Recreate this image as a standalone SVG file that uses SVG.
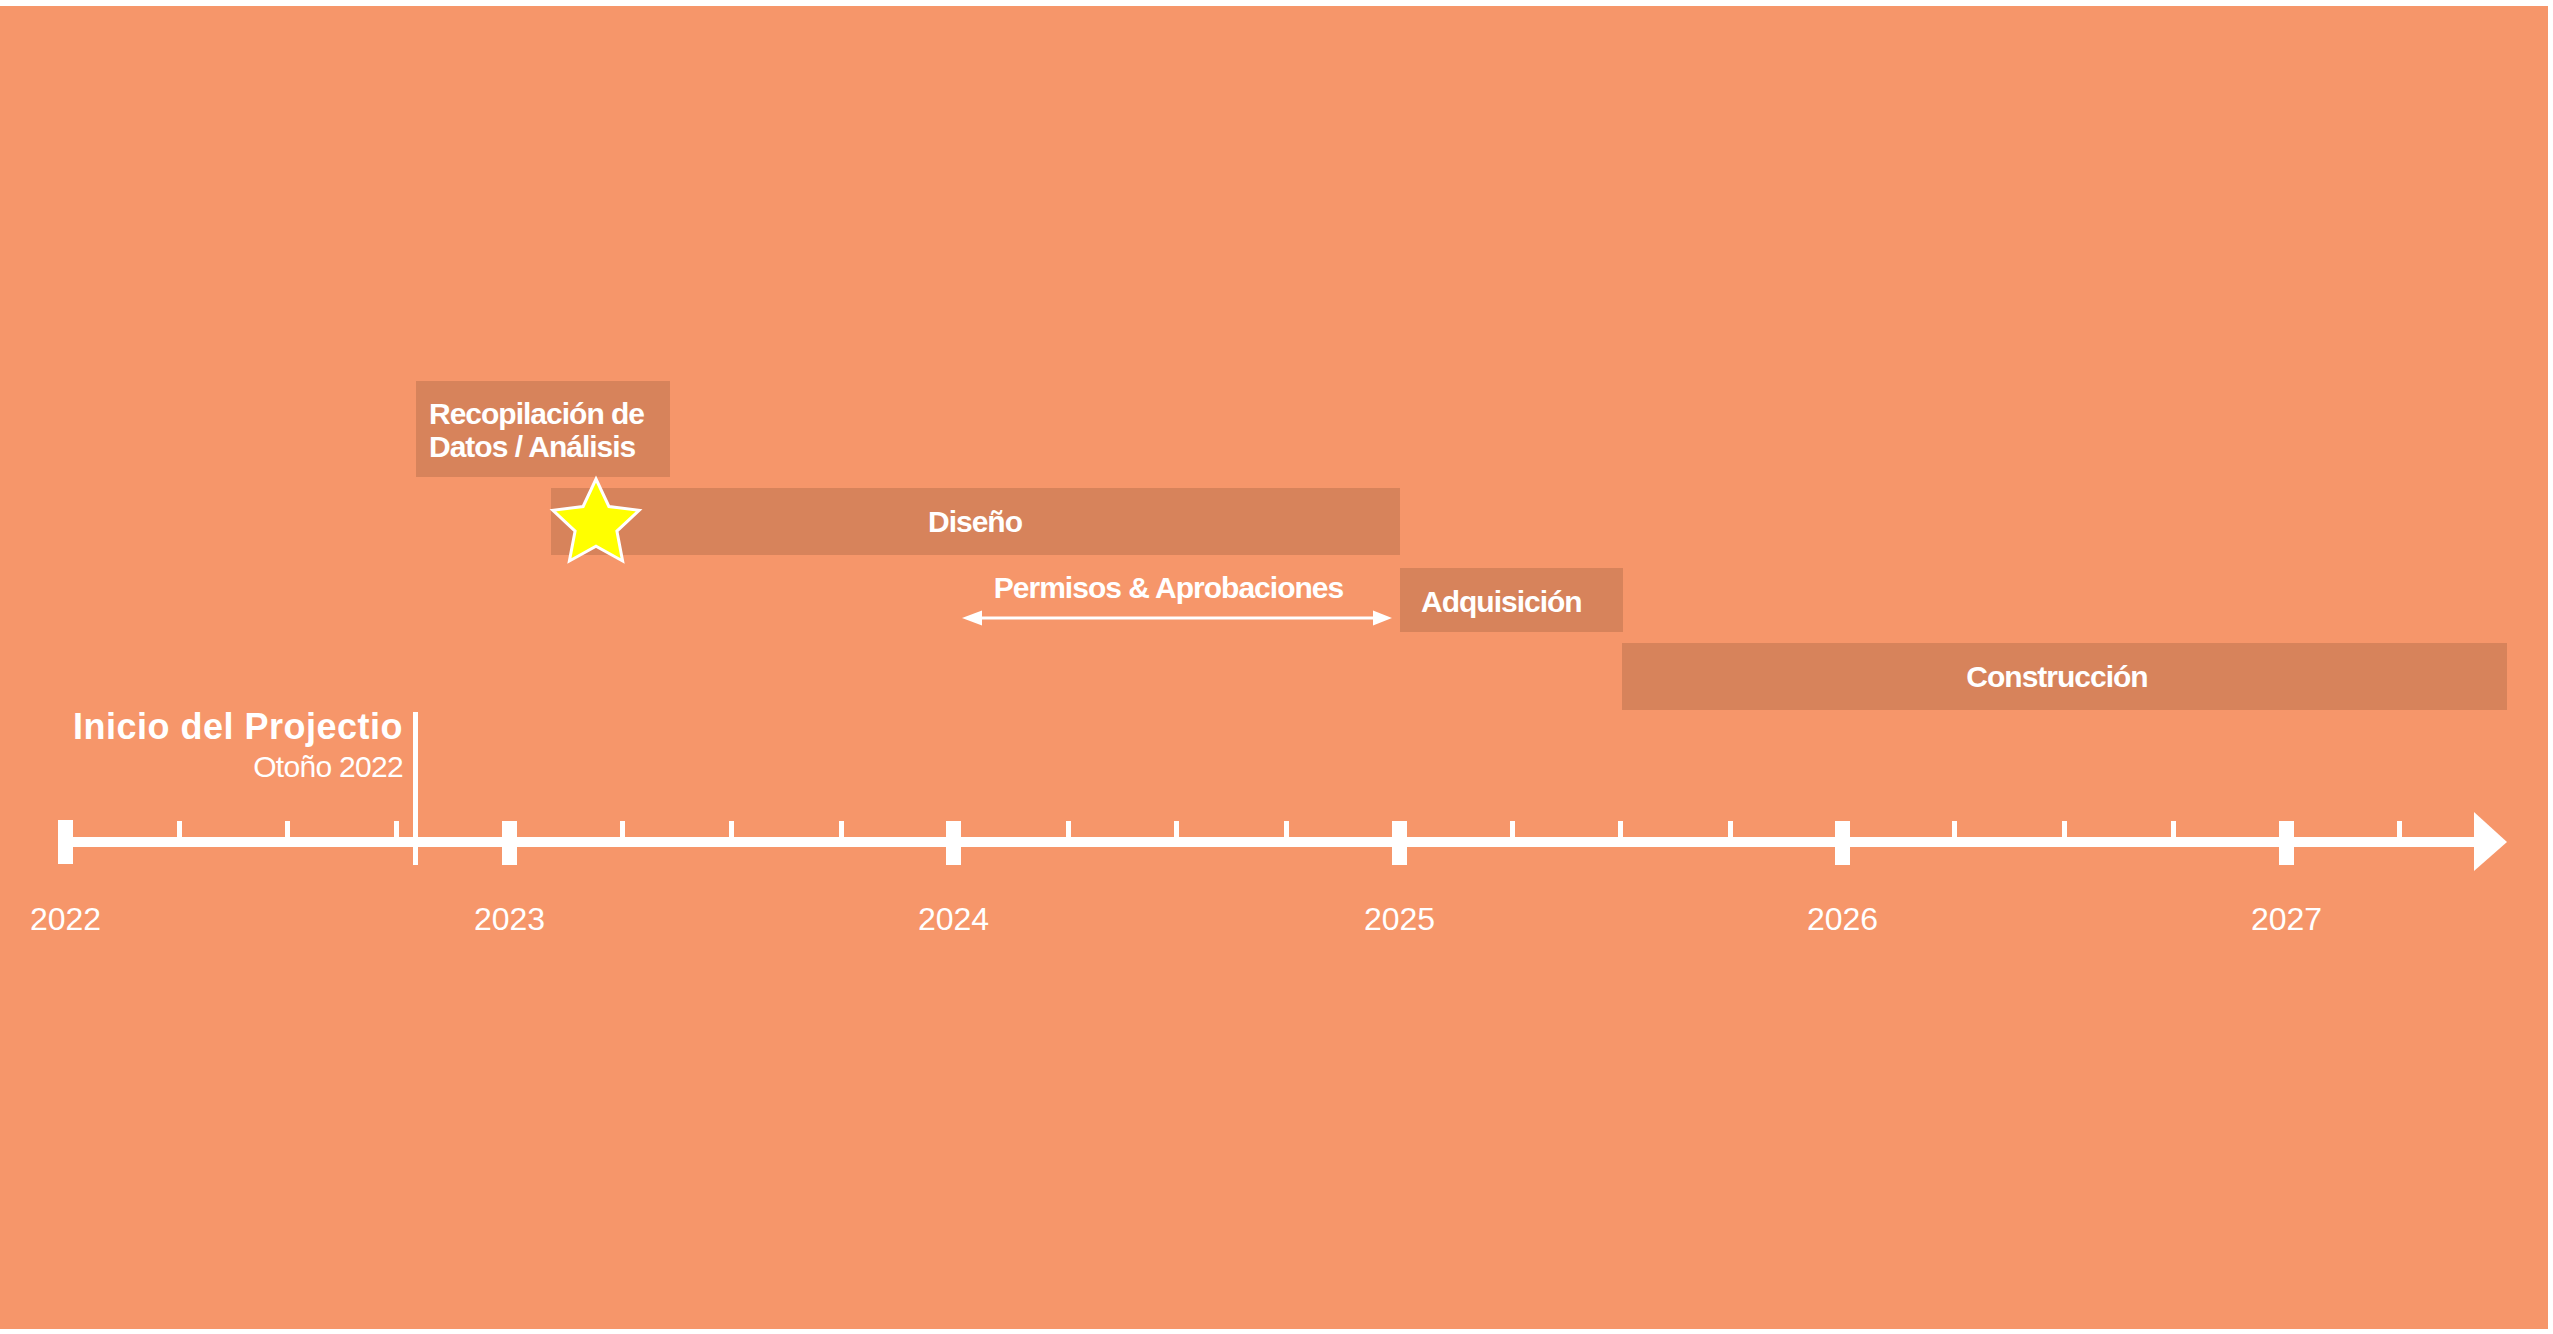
<svg xmlns="http://www.w3.org/2000/svg" width="2553" height="1334" viewBox="0 0 2553 1334">
<defs>
<style>
.bg{fill:#F6966A}
.bar{fill:#D7835B}
.lbl{font-family:"Liberation Sans",Arial,sans-serif;font-weight:bold;font-size:30px;fill:#FFFFFF;letter-spacing:-1px}
.yr{font-family:"Liberation Sans",Arial,sans-serif;font-size:32px;fill:#FFFFFF;text-anchor:middle}
.w{fill:#FFFFFF}
</style>
</defs>
<rect x="0" y="0" width="2553" height="1334" fill="#FFFFFF"/>
<rect class="bg" x="0" y="6" width="2548" height="1323"/>

<g id="timeline">
<rect class="w" x="58" y="837" width="2418" height="10"/>
<polygon class="w" points="2474,812 2507,842 2474,871"/>
<g id="year-caps">
<rect class="w" x="58" y="820" width="15" height="44"/>
<rect class="w" x="502" y="821" width="15" height="44"/>
<rect class="w" x="946" y="821" width="15" height="44"/>
<rect class="w" x="1392" y="821" width="15" height="44"/>
<rect class="w" x="1835" y="821" width="15" height="44"/>
<rect class="w" x="2279" y="821" width="15" height="44"/>
</g>
<g id="minor-ticks">
<rect class="w" x="177" y="821" width="5" height="20"/>
<rect class="w" x="285" y="821" width="5" height="20"/>
<rect class="w" x="394" y="821" width="5" height="20"/>
<rect class="w" x="620" y="821" width="5" height="20"/>
<rect class="w" x="729" y="821" width="5" height="20"/>
<rect class="w" x="839" y="821" width="5" height="20"/>
<rect class="w" x="1066" y="821" width="5" height="20"/>
<rect class="w" x="1174" y="821" width="5" height="20"/>
<rect class="w" x="1284" y="821" width="5" height="20"/>
<rect class="w" x="1510" y="821" width="5" height="20"/>
<rect class="w" x="1618" y="821" width="5" height="20"/>
<rect class="w" x="1728" y="821" width="5" height="20"/>
<rect class="w" x="1952" y="821" width="5" height="20"/>
<rect class="w" x="2062" y="821" width="5" height="20"/>
<rect class="w" x="2171" y="821" width="5" height="20"/>
<rect class="w" x="2397" y="821" width="5" height="20"/>
</g>
<g id="year-labels">
<text class="yr" x="65.5" y="930">2022</text>
<text class="yr" x="509.5" y="930">2023</text>
<text class="yr" x="953.5" y="930">2024</text>
<text class="yr" x="1399.5" y="930">2025</text>
<text class="yr" x="1842.5" y="930">2026</text>
<text class="yr" x="2286.5" y="930">2027</text>
</g>
</g>

<g id="inicio">
<rect class="w" x="413" y="712" width="5" height="153"/>
<text x="403" y="739" text-anchor="end" font-family="'Liberation Sans',Arial,sans-serif" font-weight="bold" font-size="36" fill="#FFFFFF" letter-spacing="0.5">Inicio del Projectio</text>
<text x="403" y="777" text-anchor="end" font-family="'Liberation Sans',Arial,sans-serif" font-size="30" fill="#FFFFFF" letter-spacing="-0.7">Otoño 2022</text>
</g>

<g id="recopilacion">
<rect class="bar" x="416" y="381" width="254" height="96"/>
<text class="lbl" x="429" y="424">Recopilación de</text>
<text class="lbl" x="429" y="457">Datos / Análisis</text>
</g>

<g id="diseno">
<rect class="bar" x="551" y="488" width="849" height="67"/>
<text class="lbl" x="975" y="532" text-anchor="middle">Diseño</text>
</g>

<g id="star">
<polygon points="596,479 608.9,506.5 639.1,510.3 616.9,531.1 622.6,561 596,546.3 569.4,561 575.1,531.1 552.9,510.3 583.1,506.5" fill="#FFFF00" stroke="#FFFFFF" stroke-width="3"/>
</g>

<g id="permisos">
<text class="lbl" x="1168.5" y="598" text-anchor="middle" letter-spacing="-0.9">Permisos &amp; Aprobaciones</text>
</g>

<g id="adquisicion">
<rect class="bar" x="1400" y="568" width="223" height="64"/>
<text class="lbl" x="1421" y="612">Adquisición</text>
</g>

<g id="construccion">
<rect class="bar" x="1622" y="643" width="885" height="67"/>
<text class="lbl" x="2057" y="687" text-anchor="middle">Construcción</text>
</g>

<g id="connectors">
<line x1="978" y1="618" x2="1377" y2="618" stroke="#FFFFFF" stroke-width="3"/>
<polygon class="w" points="962,618 982,610.5 982,625.5"/>
<polygon class="w" points="1392,618 1373,610.5 1373,625.5"/>
</g>
</svg>
